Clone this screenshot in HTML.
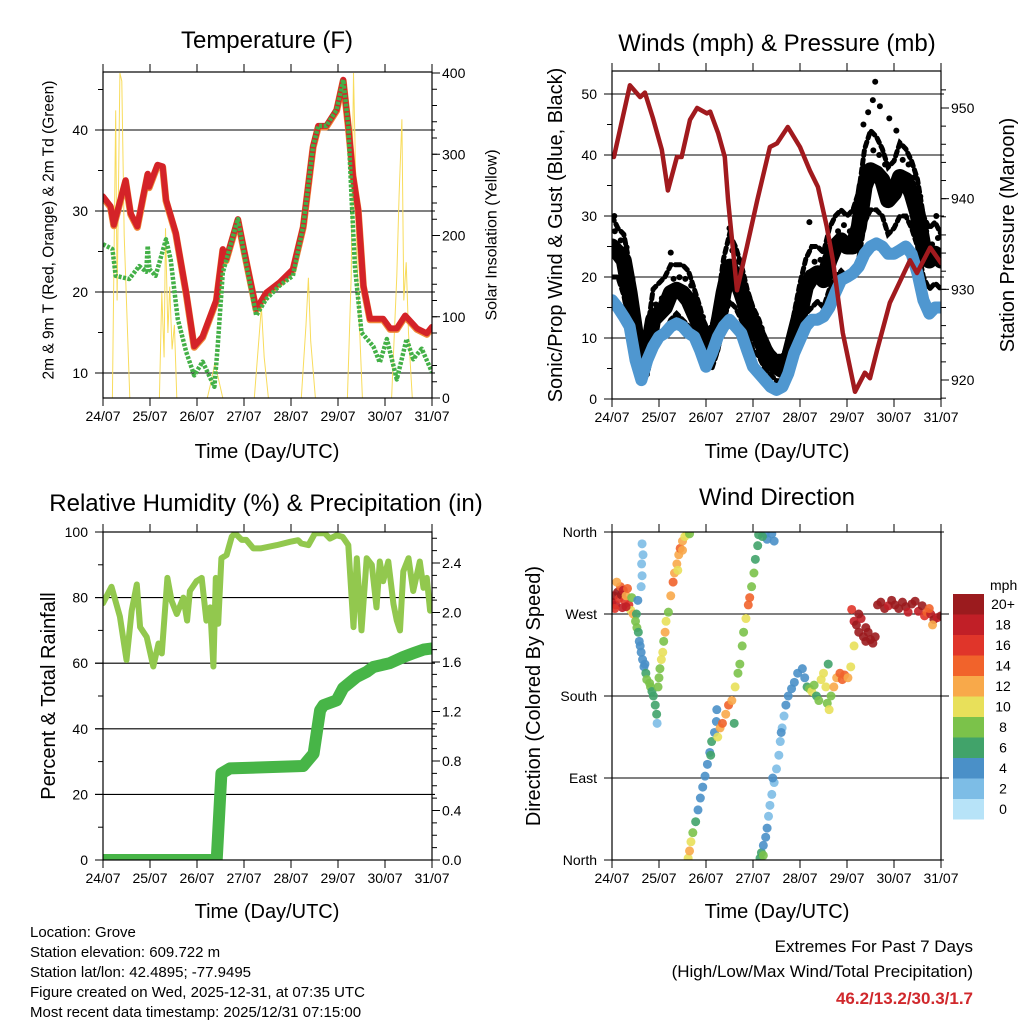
<!DOCTYPE html>
<html><head><meta charset="utf-8"><title>Station Meteogram</title>
<style>
html,body{margin:0;padding:0;background:#fff;}
svg{display:block;font-family:"Liberation Sans",Arial,sans-serif;}
</style></head>
<body>
<svg id="fig" xmlns="http://www.w3.org/2000/svg" width="1024" height="1024" viewBox="0 0 1024 1024">
<rect x="0" y="0" width="1024" height="1024" fill="#fff"/>
<text x="267" y="48" font-size="24" text-anchor="middle">Temperature (F)</text>
<text x="777" y="51" font-size="24" text-anchor="middle">Winds (mph) &amp; Pressure (mb)</text>
<text x="266" y="511" font-size="24" text-anchor="middle">Relative Humidity (%) &amp; Precipitation (in)</text>
<text x="777" y="505" font-size="24" text-anchor="middle">Wind Direction</text>
<text x="267" y="458" font-size="20" text-anchor="middle">Time (Day/UTC)</text>
<text x="777" y="458" font-size="20" text-anchor="middle">Time (Day/UTC)</text>
<text x="267" y="918" font-size="20" text-anchor="middle">Time (Day/UTC)</text>
<text x="777" y="918" font-size="20" text-anchor="middle">Time (Day/UTC)</text>
<text transform="translate(49,230) rotate(-90)" font-size="15.5" text-anchor="middle" dominant-baseline="central">2m &amp; 9m T (Red, Orange) &amp; 2m Td (Green)</text>
<text transform="translate(492,235) rotate(-90)" font-size="16" text-anchor="middle" dominant-baseline="central">Solar Insolation (Yellow)</text>
<text transform="translate(556,235) rotate(-90)" font-size="20" text-anchor="middle" dominant-baseline="central">Sonic/Prop Wind &amp; Gust (Blue, Black)</text>
<text transform="translate(1008,235) rotate(-90)" font-size="20" text-anchor="middle" dominant-baseline="central">Station Pressure (Maroon)</text>
<text transform="translate(49,696) rotate(-90)" font-size="20" text-anchor="middle" dominant-baseline="central">Percent &amp; Total Rainfall</text>
<text transform="translate(534,696) rotate(-90)" font-size="20" text-anchor="middle" dominant-baseline="central">Direction (Colored By Speed)</text>
<g font-size="15">
<text x="30" y="937">Location: Grove</text>
<text x="30" y="957">Station elevation: 609.722 m</text>
<text x="30" y="977">Station lat/lon: 42.4895; -77.9495</text>
<text x="30" y="997">Figure created on Wed, 2025-12-31, at 07:35 UTC</text>
<text x="30" y="1017">Most recent data timestamp: 2025/12/31 07:15:00</text>
</g>
<text x="973" y="952" font-size="17" text-anchor="end">Extremes For Past 7 Days</text>
<text x="973" y="977" font-size="17" text-anchor="end">(High/Low/Max Wind/Total Precipitation)</text>
<text x="973" y="1004" font-size="17" font-weight="bold" fill="#d0282c" text-anchor="end">46.2/13.2/30.3/1.7</text>
</svg>
<script>
// ---------- data ----------
const dayLabels = ["24/07","25/07","26/07","27/07","28/07","29/07","30/07","31/07"];
const tempT = [0,0.16,0.23,0.48,0.59,0.73,0.84,0.95,0.98,1.16,1.27,1.34,1.55,1.77,1.94,2.12,2.41,2.55,2.62,2.87,3.01,3.26,3.47,3.76,4.04,4.26,4.47,4.58,4.75,4.97,5.11,5.22,5.32,5.43,5.54,5.68,5.96,6.11,6.25,6.43,6.68,6.89,7.0];
const tempV = [31.8,30.6,28.3,33.8,29.7,28.1,31.4,34.6,33,35.7,35.5,31.4,27.3,19.9,13.3,14.5,19,25.3,24,29,24.9,17.9,19.9,21.2,22.8,28.1,38,40.5,40.5,42.5,46.2,40.5,34.4,30.2,20.8,16.7,16.7,15.5,15.5,17.1,15.5,14.9,15.7];
const dewT = [0,0.2,0.27,0.56,0.77,0.92,0.95,0.99,1.12,1.34,1.44,1.59,1.77,1.94,2.12,2.37,2.44,2.55,2.87,3.01,3.26,3.47,3.76,4.04,4.26,4.47,4.58,4.75,4.97,5.11,5.22,5.29,5.36,5.5,5.75,5.89,6.04,6.25,6.46,6.6,6.78,7.0];
const dewV = [25.9,25.3,22,21.6,23.2,22.5,25.7,22.8,22,26.5,24,16.7,12.6,9.7,11.4,8.3,13.3,22.4,29,24.5,17.1,19.1,20.8,22,28.1,38,40.5,40.5,42.5,46.2,40.5,31.5,23.2,15,13.3,11.3,14.2,9.2,14.2,11.7,13,10.1];
const solarT = [0,0.2,0.27,0.3,0.36,0.4,0.45,0.57,1.2,1.25,1.3,1.33,1.38,1.42,1.47,1.52,1.57,2.22,2.3,2.38,2.45,2.55,3.22,3.3,3.37,3.43,3.52,4.22,4.32,4.37,4.42,4.52,5.2,5.28,5.33,5.36,5.4,5.45,5.52,6.14,6.25,6.3,6.36,6.4,6.45,6.5,6.58,7.0];
const solarV = [0,0,354,120,400,390,200,0,0,130,50,209,80,137,60,90,0,0,20,43,25,0,0,60,112,50,0,0,90,148,70,0,0,150,400,320,180,100,0,0,150,250,343,120,167,80,0,0];

const windT = [0,0.125,0.25,0.375,0.5,0.625,0.75,0.875,1,1.125,1.25,1.375,1.5,1.625,1.75,1.875,2,2.125,2.25,2.375,2.5,2.625,2.75,2.875,3,3.125,3.25,3.375,3.5,3.625,3.75,3.875,4,4.125,4.25,4.375,4.5,4.625,4.75,4.875,5,5.125,5.25,5.375,5.5,5.625,5.75,5.875,6,6.125,6.25,6.375,6.5,6.625,6.75,6.875,7];
const gustV = [25,24,22.7,17.4,10.8,6.4,7.5,13,14,15,17.4,17.9,17.4,16.2,14,11.9,8,8,11.9,17.4,21.7,20,17.4,14.5,11.9,10.2,8,6.4,5.3,4.7,6.4,10.2,14,18.4,20,20.6,19.5,22.7,25,26,25,25,28.2,34.8,37.5,37,35.9,32.6,33.7,36.4,35.9,33.7,30.4,25,22.7,23.8,22.7];
const gustHiV = [30,28,27,22,14,9,11,18,19,20,22,22,22,21,18,15,11,12,16,23,27,25,22,18,15,13,10,8,7,7,9,14,19,23,25,25,24,28,30,31,30,31,34,41,44,43,41,38,39,42,41,39,36,30,28,29,27];
const gustLoV = [20,20,17,12,6,3,4,9,10,11,13,14,13,12,10,8,5,5,8,13,16,15,13,11,8,7,5,4,3,3,4,7,10,14,15,16,15,18,20,21,20,20,23,29,31,31,30,27,28,30,30,28,25,20,18,19,18];
const windV = [16.2,15,13.5,11.9,6.4,3.1,6.4,8.6,10.2,10.8,11.9,12.4,11.9,10.8,10.2,8,5.3,7.5,10.2,11.9,13,11.9,10.8,8,5.3,4.2,3.1,2,1.5,2,4.2,7.5,9.7,11.9,13,13,13.5,15,17.4,19.5,20,20.6,21.7,23.8,25,25.5,25,23.8,23.8,24.4,25,23.8,20.6,16.2,14,15,15];
const gustPeakT = [0.05,1.25,2.5,4.2,5.35,5.45,5.55,5.6,5.7,5.9,6.05,6.9];
const gustPeakV = [30,24,28,29,45,47,49,52,48,46,44,30];
const presT = [0.04,0.38,0.6,0.7,0.87,1.06,1.19,1.38,1.48,1.66,1.81,2.02,2.09,2.26,2.4,2.47,2.66,2.87,3.09,3.36,3.51,3.74,4.0,4.21,4.38,4.57,4.7,4.91,5.17,5.38,5.49,5.64,5.91,6.34,6.49,6.77,7.0];
const presV = [944.6,952.5,951.2,951.7,948.9,945.4,940.9,944.6,944.6,948.7,950,949.4,949.6,947.2,944.6,939.8,929.9,934.7,939.8,945.7,946.1,947.9,945.7,943.1,941.3,936.9,933.2,925.2,918.7,920.8,920.2,923.3,928.5,933.2,931.8,934.6,932.9];

const rhT = [0,0.18,0.36,0.5,0.61,0.72,0.79,0.93,1.07,1.18,1.25,1.37,1.46,1.57,1.71,1.79,1.85,1.99,2.1,2.2,2.28,2.35,2.4,2.45,2.52,2.63,2.74,2.81,2.95,3.05,3.2,3.35,3.7,3.98,4.15,4.22,4.37,4.51,4.72,4.83,4.97,5.1,5.22,5.33,5.4,5.5,5.61,5.72,5.82,5.89,5.96,6.07,6.18,6.25,6.32,6.39,6.5,6.6,6.74,6.82,6.89,6.96,7.0];
const rhV = [78.3,83.3,74.2,61,76,84,71,68,59,66,63,86,79,75,80,73,82,85,86,73,77,59,86,72,92,93,98.6,99.6,97.6,97.6,95,95,96,97,97.5,96.5,96,99.6,99.6,98,99,98.5,96,71,92,70,92,90,77,91,85,91,78,73,70,88,92,82,91,83,86,76,77];
const rainT = [0,2.42,2.52,2.7,4.26,4.48,4.62,4.69,4.97,5.11,5.4,5.61,5.75,6.1,6.39,6.6,6.82,7.0];
const rainV = [0,0,0.70,0.74,0.76,0.86,1.21,1.25,1.29,1.39,1.48,1.52,1.56,1.59,1.64,1.67,1.70,1.71];

const dirT = [0,0.04,0.08,0.12,0.15,0.18,0.2,0.24,0.27,0.3,0.33,0.36,0.4,0.42,0.45,0.1,0.22,0.06,0.3,
 0.64,0.66,0.63,0.64,0.62,0.55,0.52,0.5,0.53,0.56,0.58,0.6,0.62,0.65,0.68,0.72,0.74,0.8,0.82,0.85,0.88,0.92,0.95,0.96,0.7,
 0.98,1.0,1.02,1.05,1.08,1.1,1.13,1.15,1.2,1.25,1.3,1.33,1.38,1.42,1.45,1.5,1.55,1.6,1.65,1.4,1.5,
 1.62,1.65,1.68,1.72,1.78,1.83,1.88,1.93,1.98,2.03,2.08,2.12,2.18,2.22,2.23,2.25,2.3,2.35,2.42,2.48,2.55,2.62,2.68,2.72,2.77,2.8,2.85,2.9,2.93,2.97,3.02,3.05,3.1,3.12,2.1,2.6,
 3.26,3.3,3.4,3.45,3.2,
 3.15,3.18,3.22,3.27,3.3,3.33,3.36,3.4,3.45,3.5,3.55,3.58,3.62,3.66,3.7,3.75,3.82,3.88,3.95,3.42,3.6,3.22,
 4.05,4.1,4.15,4.2,4.25,4.3,4.35,4.4,4.45,4.5,4.55,4.58,4.62,4.66,4.72,4.78,4.85,4.9,4.95,5.02,5.08,4.6,
 5.1,5.15,5.2,5.25,5.3,5.35,5.4,5.45,5.5,5.55,5.6,5.15,5.25,5.4,
 5.65,5.72,5.8,5.88,5.95,6.02,6.1,6.18,6.25,6.3,6.38,6.45,6.52,6.6,6.65,6.7,6.78,6.85,6.92,7.0,6.82,6.75];
const dirDeg = [283,290,280,294,287,300,291,296,285,290,298,280,274,288,270,305,277,276,278,
 347,335,325,312,300,285,270,262,255,250,240,235,228,220,212,205,198,194,190,185,180,170,160,150,215,
 190,200,210,220,228,240,250,262,272,290,305,315,325,335,342,350,355,358,358,318,340,
 2,10,20,30,42,55,68,80,92,105,118,130,140,152,165,135,145,150,160,170,175,190,205,215,235,250,265,280,288,300,315,330,345,357,115,150,
 358,352,358,350,355,
 2,8,16,25,35,48,60,72,85,100,115,130,145,158,170,180,188,195,205,90,140,5,
 210,200,190,188,185,192,180,175,198,205,190,172,165,180,190,200,205,198,203,200,212,215,
 275,262,258,250,265,245,240,250,242,238,245,235,270,255,
 280,283,276,279,285,280,276,283,278,272,281,284,273,279,268,272,270,264,266,268,258,276];
const dirSpd = [18,20,17,19,16,14,20,18,16,12,14,16,10,8,12,12,18,16,17,
 1,2,1,2,2,4,6,8,7,5,4,4,3,4,3,6,7,8,7,6,6,6,6,2,4,
 7,8,8,10,9,8,12,9,8,12,14,12,12,12,13,12,10,9,8,10,11,
 10,11,10,8,6,4,4,3,4,4,4,5,4,4,3,10,12,14,12,14,12,10,8,8,8,8,9,14,14,8,8,6,6,6,5,6,
 4,3,4,4,6,
 6,6,4,4,3,2,2,2,2,2,2,2,2,2,3,4,3,4,4,4,4,7,
 4,4,6,8,9,8,6,8,10,10,10,8,9,7,12,12,14,13,14,12,10,6,
 16,18,20,20,18,20,20,20,20,20,20,10,20,20,
 20,20,20,18,20,20,19,20,20,18,20,20,18,20,16,14,18,20,18,20,12,14];
const speedLabels = ["0","2","4","6","8","10","12","14","16","18","20+"];
const speedColors = ["#b7e3f8","#7dbde6","#4a90c8","#41a36a","#7bc24a","#e8e05a","#f8a94a","#f1632b","#e0352a","#c11f27","#9b1b1e"];
const dirLabels = ["North","East","South","West","North"];

// ---------- helpers ----------
const NS = "http://www.w3.org/2000/svg";
const svg = document.getElementById("fig");
function mk(tag, attrs, parent){
  const e = document.createElementNS(NS, tag);
  for (const k in attrs) e.setAttribute(k, attrs[k]);
  (parent || svg).appendChild(e);
  return e;
}
function linear(d0, d1, r0, r1){ return v => r0 + (v - d0) * (r1 - r0) / (d1 - d0); }
function pts(xs, ys, fx, fy){ return xs.map((t,i)=> fx(t).toFixed(1)+","+fy(ys[i]).toFixed(1)).join(" "); }

const P1 = {x0:103,x1:432,y0:72,y1:398};
const P2 = {x0:612,x1:941,y0:71,y1:399};
const P3 = {x0:103,x1:432,y0:532,y1:860};
const P4 = {x0:612,x1:941,y0:532,y1:860};

const x1s = linear(0,7,P1.x0,P1.x1);
const x2s = linear(0,7,P2.x0,P2.x1);
const yTemp = linear(10,40,373,130);
const ySolar = linear(0,400,398,73);
const yWind = linear(0,50,399,94);
const yPres = linear(920,950,380,108);
const yRH = linear(0,100,860,532);
const yRain = linear(0,2.4,860,563);
const yDir = linear(0,360,860,532);

function xAxis(P, xs, name){
  const g = mk("g",{});
  
  
  dayLabels.forEach((lab,i)=>{
    const x = xs(i);
    const tb = mk("line",{x1:x,x2:x,y1:P.y1,y2:P.y1+8,stroke:"#000","stroke-width":1},g);
    
    
    const tt = mk("line",{x1:x,x2:x,y1:P.y0,y2:P.y0-8,stroke:"#000","stroke-width":1},g);
    
    
    const tx = mk("text",{x:x,y:P.y1+23,"font-size":14,"text-anchor":"middle"},g);
    tx.textContent = lab;
    
    
  });
}
function yAxis(P, side, scale, majors, minors, fmt, name, labels){
  const g = mk("g",{});
  
  
  const xe = side === "left" ? P.x0 : P.x1;
  const dir = side === "left" ? -1 : 1;
  minors.forEach(v=>{
    const y = scale(v);
    const m = mk("line",{x1:xe,x2:xe+dir*5,y1:y,y2:y,stroke:"#000","stroke-width":1},g);
    
    
  });
  majors.forEach((v,i)=>{
    const y = scale(v);
    const t = mk("line",{x1:xe,x2:xe+dir*8,y1:y,y2:y,stroke:"#000","stroke-width":1},g);
    
    
    const lx = side === "left" ? xe - 15 : xe + 10;
    const tx = mk("text",{x:lx,y:y+5,"font-size":14,"text-anchor": side==="left"?"end":"start"},g);
    tx.textContent = labels ? labels[i] : fmt(v);
    
    
  });
}
function grid(P, scale, vals, name){
  vals.forEach(v=>{
    const y = scale(v);
    const l = mk("line",{x1:P.x0-8,x2:P.x1+3,y1:y,y2:y,stroke:"#000","stroke-width":1.1});
    
    
  });
}
function frame(P, name){
  const r = mk("rect",{x:P.x0,y:P.y0,width:P.x1-P.x0,height:P.y1-P.y0,fill:"none",stroke:"#000","stroke-width":1.2});
  
  
}
function clip(id, P){
  const cp = mk("clipPath",{id:id});
  mk("rect",{x:P.x0,y:P.y0,width:P.x1-P.x0,height:P.y1-P.y0},cp);
}
function range(a,b,s){ const r=[]; for(let v=a; v<=b+1e-9; v+=s) r.push(+v.toFixed(3)); return r; }

clip("c1",P1); clip("c2",P2); clip("c3",P3); clip("c4",P4);

// ---------- Panel 1 ----------
grid(P1, yTemp, [10,20,30,40], 'temp-gridline');
const g1 = mk("g",{"clip-path":"url(#c1)"});


const solar = mk("polyline",{points:pts(solarT,solarV,x1s,ySolar),fill:"none",stroke:"#f8dc5c","stroke-width":1},g1);


const t9 = mk("polyline",{points:pts(tempT,tempV,x1s,yTemp),fill:"none",stroke:"#f08a3a","stroke-width":7,"stroke-linejoin":"round","stroke-linecap":"round",transform:"translate(0,1)"},g1);


const t2 = mk("polyline",{points:pts(tempT,tempV,x1s,yTemp),fill:"none",stroke:"#d42328","stroke-width":6,"stroke-linejoin":"round","stroke-linecap":"round"},g1);


const td = mk("polyline",{points:pts(dewT,dewV,x1s,yTemp),fill:"none",stroke:"#43b047","stroke-width":4.5,"stroke-dasharray":"3 1.5","stroke-linejoin":"round"},g1);


frame(P1,'temperature-frame');
xAxis(P1, x1s, 'temp-x-axis');
yAxis(P1,"left",yTemp,[10,20,30,40],[15,25,35,45],v=>String(v),'temp-y-axis');
yAxis(P1,"right",ySolar,[0,100,200,300,400],range(20,380,20),v=>String(v),'solar-y-axis');

// ---------- Panel 2 ----------
grid(P2, yWind, [10,20,30,40,50], 'wind-gridline');
const g2 = mk("g",{"clip-path":"url(#c2)"});


const gb = mk("polyline",{points:pts(windT,gustV,x2s,yWind),fill:"none",stroke:"#000","stroke-width":16,"stroke-linejoin":"round","stroke-linecap":"round"},g2);


const gbh = mk("polyline",{points:pts(windT,gustHiV,x2s,yWind),fill:"none",stroke:"#000","stroke-width":5,"stroke-dasharray":"5 4","stroke-linecap":"round"},g2);


const gbl = mk("polyline",{points:pts(windT,gustLoV,x2s,yWind),fill:"none",stroke:"#000","stroke-width":5,"stroke-dasharray":"5 4","stroke-linecap":"round"},g2);


windT.forEach((t,i)=>{
  const c = mk("circle",{cx:x2s(t+0.06),cy:yWind((gustV[i]+gustHiV[i])/2),r:3,fill:"#000"},g2);
  
  
});
gustPeakT.forEach((t,i)=>{
  const c = mk("circle",{cx:x2s(t),cy:yWind(gustPeakV[i]),r:3,fill:"#000"},g2);
  
  
});
const wl = mk("polyline",{points:pts(windT,windV,x2s,yWind),fill:"none",stroke:"#4f97d0","stroke-width":12,"stroke-linejoin":"round","stroke-linecap":"round"},g2);


const pl = mk("polyline",{points:pts(presT,presV,x2s,yPres),fill:"none",stroke:"#a11a1e","stroke-width":4.5,"stroke-linejoin":"round","stroke-linecap":"round"},g2);


frame(P2,'winds-frame');
xAxis(P2, x2s, 'wind-x-axis');
yAxis(P2,"left",yWind,[0,10,20,30,40,50],[5,15,25,35,45],v=>String(v),'wind-y-axis');
yAxis(P2,"right",yPres,[920,930,940,950],range(918,952,2),v=>String(v),'pressure-y-axis');

// ---------- Panel 3 ----------
grid(P3, yRH, [20,40,60,80], 'rh-gridline');
const g3 = mk("g",{"clip-path":"url(#c3)"});


const rl = mk("polyline",{points:pts(rhT,rhV,x1s,yRH),fill:"none",stroke:"#92c84e","stroke-width":6,"stroke-linejoin":"round","stroke-linecap":"round"},g3);


const pr = mk("polyline",{points:pts(rainT,rainV,x1s,yRain),fill:"none",stroke:"#47b547","stroke-width":12,"stroke-linejoin":"round","stroke-linecap":"round"},g3);


frame(P3,'humidity-frame');
xAxis(P3, x1s, 'rh-x-axis');
yAxis(P3,"left",yRH,[0,20,40,60,80,100],[10,30,50,70,90],v=>String(v),'rh-y-axis');
yAxis(P3,"right",yRain,[0,0.4,0.8,1.2,1.6,2.0,2.4],range(0.1,2.6,0.1),v=>v.toFixed(1),'rain-y-axis');

// ---------- Panel 4 ----------
grid(P4, yDir, [0,90,180,270,360], 'dir-gridline');
const g4 = mk("g",{"clip-path":"url(#c4)"});


dirT.forEach((t,i)=>{
  const k = Math.min(10, Math.round(dirSpd[i]/2));
  const c = mk("circle",{cx:x2s(t),cy:yDir(dirDeg[i]),r:4.5,fill:speedColors[k],"fill-opacity":0.9},g4);
  
  
});
frame(P4,'direction-frame');
xAxis(P4, x2s, 'dir-x-axis');
yAxis(P4,"left",yDir,[0,90,180,270,360],[],v=>String(v),'dir-y-axis',dirLabels);
[90,180,270].forEach(v=>{
  const y = yDir(v);
  const t = mk("line",{x1:P4.x1,x2:P4.x1+8,y1:y,y2:y,stroke:"#000","stroke-width":1});
  
  
});
const cb = mk("g",{});


const cbTitle = mk("text",{x:990,y:590,"font-size":14},cb);
cbTitle.textContent = "mph";


speedColors.forEach((col,i)=>{
  const y = 594 + (10-i)*20.5;
  const r = mk("rect",{x:953,y:y,width:31,height:20.5,fill:col},cb);
  
  
  const t = mk("text",{x:1003,y:y+15,"font-size":14,"text-anchor":"middle"},cb);
  t.textContent = speedLabels[i];
  
  
});
</script>
</body></html>
